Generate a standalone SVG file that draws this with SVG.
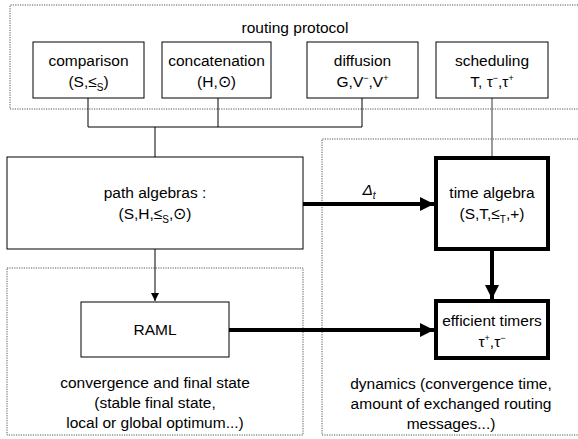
<svg xmlns="http://www.w3.org/2000/svg" width="578" height="439" viewBox="0 0 578 439">
<style>
text{font-family:"Liberation Sans",Arial,sans-serif;font-size:15.5px;fill:#000;text-anchor:middle}
.sub{font-size:10px}
.sup{font-size:9px}
.zone{fill:none;stroke:#555;stroke-width:1;stroke-dasharray:1.2,1.2}
.box{fill:#fff;stroke:#000;stroke-width:1}
.bold{fill:#fff;stroke:#000;stroke-width:4}
.thin{fill:none;stroke:#000;stroke-width:1}
.gray{fill:none;stroke:#666;stroke-width:1.3}
.thick{fill:none;stroke:#000;stroke-width:4}
</style>
<defs>
<marker id="big" viewBox="0 0 10 10" refX="10" refY="5" markerWidth="4.5" markerHeight="3.5" markerUnits="strokeWidth" orient="auto"><path d="M0,0L10,5L0,10z" fill="#000"/></marker>
<marker id="small" viewBox="0 0 10 10" refX="10" refY="5" markerWidth="8" markerHeight="12" markerUnits="userSpaceOnUse" orient="auto"><path d="M0,0L10,5L0,10z" fill="#000"/></marker>
</defs>
<g id="zones">
<path class="zone" d="M590,5H10V109H590"/>
<path class="zone" d="M590,139H322V435H590"/>
<path class="zone" d="M7,268H303V435H7z"/>
</g>
<g id="connectors">
<path class="thin" d="M88,98V127H362V98M218,98V127M155,127V157"/>
<path class="gray" d="M492,98V157"/>
<path class="thin" d="M155,249V301" marker-end="url(#small)"/>
<path class="thick" d="M303,204H434" marker-end="url(#big)"/>
<path class="thick" d="M492,251V299" marker-end="url(#big)"/>
<path class="thick" d="M229,330H434" marker-end="url(#big)"/>
<text x="369" y="195" font-style="italic">Δ<tspan class="sub" dy="4">t</tspan></text>
</g>
<g id="routing-protocol"><text x="295" y="33">routing protocol</text></g>
<g id="comparison">
<rect class="box" x="33" y="42" width="111" height="56"/>
<text x="88.5" y="66">comparison</text>
<text x="88.5" y="87">(S,≤<tspan class="sub" dy="4">S</tspan><tspan dy="-4">)</tspan></text>
</g>
<g id="concatenation">
<rect class="box" x="162" y="42" width="109" height="56"/>
<text x="216.5" y="66">concatenation</text>
<text x="216.5" y="87">(H,⊙)</text>
</g>
<g id="diffusion">
<rect class="box" x="307" y="42" width="111" height="56"/>
<text x="362.5" y="66">diffusion</text>
<text x="362.5" y="87">G,V<tspan class="sup" dy="-6">−</tspan><tspan dy="6">,V</tspan><tspan class="sup" dy="-6">+</tspan></text>
</g>
<g id="scheduling">
<rect class="box" x="436" y="42" width="112" height="56"/>
<text x="492" y="66">scheduling</text>
<text x="492" y="87">T, τ<tspan class="sup" dy="-6">−</tspan><tspan dy="6">,τ</tspan><tspan class="sup" dy="-6">+</tspan></text>
</g>
<g id="path-algebras">
<rect class="box" x="7" y="157" width="296" height="92"/>
<text x="155" y="198">path algebras :</text>
<text x="155" y="219">(S,H,≤<tspan class="sub" dy="4">S</tspan><tspan dy="-4">,⊙)</tspan></text>
</g>
<g id="time-algebra">
<rect class="bold" x="436" y="158" width="112" height="91"/>
<text x="492" y="198">time algebra</text>
<text x="492" y="219">(S,T,≤<tspan class="sub" dy="4">T</tspan><tspan dy="-4">,+)</tspan></text>
</g>
<g id="raml">
<rect class="box" x="81" y="302" width="148" height="55"/>
<text x="155" y="335">RAML</text>
</g>
<g id="efficient-timers">
<rect class="bold" x="436" y="301" width="112" height="57"/>
<text x="492" y="326">efficient timers</text>
<text x="492" y="347">τ<tspan class="sup" dy="-6">+</tspan><tspan dy="6">,τ</tspan><tspan class="sup" dy="-6">−</tspan></text>
</g>
<g id="convergence-label">
<text x="155" y="388">convergence and final state</text>
<text x="155" y="408">(stable final state,</text>
<text x="155" y="428">local or global optimum...)</text>
</g>
<g id="dynamics-label">
<text x="451" y="389">dynamics (convergence time,</text>
<text x="451" y="409">amount of exchanged routing</text>
<text x="451" y="429">messages...)</text>
</g>
</svg>
